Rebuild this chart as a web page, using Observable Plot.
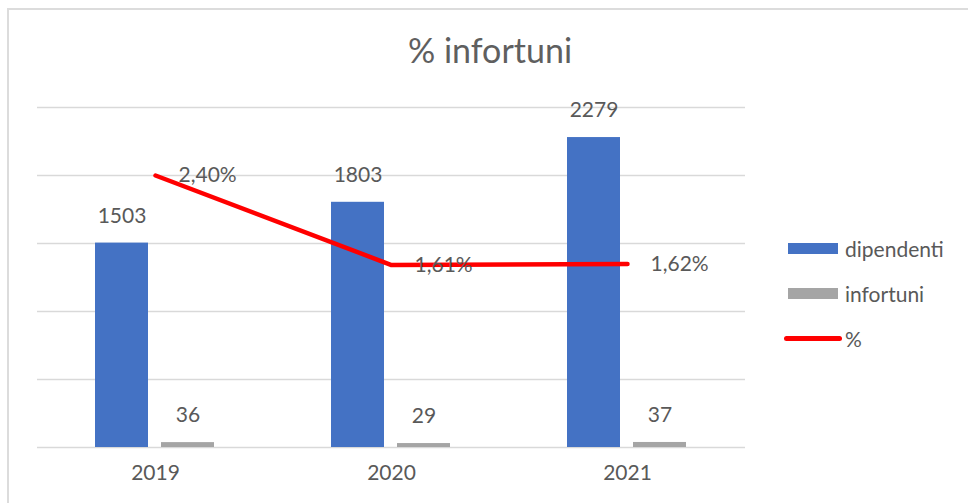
<!DOCTYPE html>
<html>
<head>
<meta charset="utf-8">
<script src="https://cdn.jsdelivr.net/npm/d3@7"></script>
<script src="https://cdn.jsdelivr.net/npm/@observablehq/plot@0.6"></script>
<style>
  html, body { margin: 0; padding: 0; background: #fff; }
  #chart { position: relative; width: 968px; height: 503px; overflow: hidden; background: #fff;
           font-family: Lato, "Liberation Sans", sans-serif; color: #595959; }
  #chart .layer { position: absolute; left: 0; top: 0; }
  #frame { position: absolute; left: 7px; top: 8px; width: 1000px; height: 600px;
           border-top: 2px solid #DCDCDC; border-left: 2px solid #DCDCDC; }
  #title { position: absolute; left: 490px; top: 50px; transform: translate(-50%, -50%);
           font-size: 34px; white-space: nowrap; line-height: 1; color: #5f5f5f; }
  .leg { position: absolute; left: 0; top: 0; font-size: 21px; line-height: 1; white-space: nowrap; }
  .leg .sw { position: absolute; }
  .leg .lab { position: absolute; transform: translateY(-50%); }
</style>
</head>
<body>
<div id="chart">
  <div id="frame"></div>
</div>
<script>
// ---- data ----
const years = [2019, 2020, 2021];
const seriesNames = ["dipendenti", "infortuni"];
const dipendenti = [1503, 1803, 2279];
const infortuni = [36, 29, 37];
const percentName = "%";
const percent = [2.40, 1.61, 1.62];
const gridTicks = [0, 500, 1000, 1500, 2000, 2500];
const titleText = "% infortuni";

// tables built from the arrays
const bars = years.flatMap((year, i) => [
  {year, series: seriesNames[0], value: dipendenti[i]},
  {year, series: seriesNames[1], value: infortuni[i]}
]);
const linePts = years.map((year, i) => ({year, pct: percent[i]}));
const fmtPct = v => v.toFixed(2).replace(".", ",") + "%";

const W = 968, H = 503;
const margins = {marginLeft: 36, marginRight: 222, marginTop: 107, marginBottom: 56};
const fontStyle = {fontFamily: "Lato, 'Liberation Sans', sans-serif", fontSize: "21px", color: "#595959", background: "transparent", overflow: "visible"};

// ---- primary chart: grid, grouped bars, labels, year axis ----
const barsPlot = Plot.plot({
  width: W, height: H, ...margins,
  style: fontStyle,
  fx: {type: "band", domain: years, padding: 0, axis: "bottom", tickSize: 0, tickPadding: 18, label: null, tickFormat: d => String(d)},
  x: {type: "band", domain: seriesNames, paddingInner: 0.19, paddingOuter: 0.86, axis: null},
  y: {domain: [0, 2500], axis: null},
  color: {domain: seriesNames, range: ["#4472C4", "#A5A5A5"]},
  marks: [
    Plot.ruleY(gridTicks, {stroke: "#D9D9D9", strokeWidth: 1.5}),
    Plot.barY(bars, {fx: "year", x: "series", y: "value", fill: "series"}),
    Plot.text(bars, {fx: "year", x: "series", y: "value", text: d => String(d.value), dy: -27, fill: "#595959", fontSize: 21})
  ]
});
barsPlot.classList.add("layer");
document.getElementById("chart").appendChild(barsPlot);

// ---- secondary chart: % line on its own (hidden) axis 0–3% ----
const linePlot = Plot.plot({
  width: W, height: H, ...margins,
  style: fontStyle,
  x: {type: "point", domain: years, padding: 0.5, axis: null},
  y: {domain: [0, 3], axis: null},
  marks: [
    Plot.line(linePts, {x: "year", y: "pct", stroke: "#FF0000", strokeWidth: 4.5, strokeLinecap: "round", strokeLinejoin: "round"}),
    Plot.text(linePts, {x: "year", y: "pct", text: d => fmtPct(d.pct), dx: 23, textAnchor: "start", fill: "#595959", fontSize: 21})
  ]
});
linePlot.classList.add("layer");
document.getElementById("chart").appendChild(linePlot);

// ---- title ----
const title = document.createElement("div");
title.id = "title";
title.textContent = titleText;
document.getElementById("chart").appendChild(title);

// ---- legend ----
const leg = document.createElement("div");
leg.className = "leg";
const legendItems = [
  {name: seriesNames[0], kind: "bar", color: "#4472C4", y: 248},
  {name: seriesNames[1], kind: "bar", color: "#A5A5A5", y: 293},
  {name: percentName, kind: "line", color: "#FF0000", y: 338}
];
legendItems.forEach(it => {
  const sw = document.createElement("div");
  sw.className = "sw";
  if (it.kind === "bar") {
    Object.assign(sw.style, {left: "788px", top: (it.y - 5.5) + "px", width: "50px", height: "11px", background: it.color});
  } else {
    Object.assign(sw.style, {left: "784px", top: (it.y - 2.5) + "px", width: "58px", height: "5px", background: it.color, borderRadius: "2.5px"});
  }
  const lab = document.createElement("div");
  lab.className = "lab";
  lab.textContent = it.name;
  Object.assign(lab.style, {left: "845px", top: it.y + "px"});
  leg.appendChild(sw);
  leg.appendChild(lab);
});
document.getElementById("chart").appendChild(leg);
</script>
</body>
</html>
